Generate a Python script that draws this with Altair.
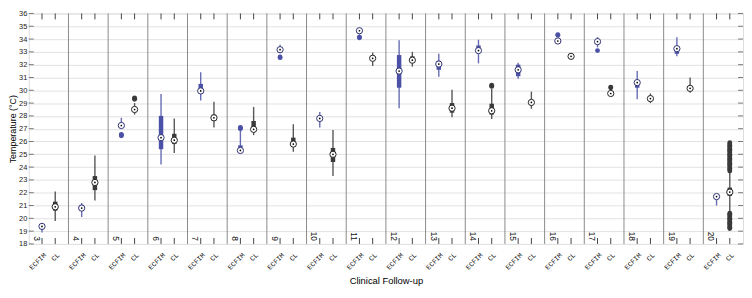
import altair as alt
import pandas as pd

# ---------------- data ----------------
groups = list(range(3, 21))
categories = ["ECFIM", "CL"]

# ECFIM summary (median, q1, q3, lower whisker, upper whisker)
ecfim_med = [19.37, 20.8, 27.25, 26.3, 29.95, 25.3, 33.17, 27.8, 34.65, 31.5, 32.05, 33.1, 31.6, 33.85, 33.8, 30.6, 33.25, 21.7]
ecfim_q1  = [19.3, 20.6, 27.2, 25.4, 29.9, 25.2, 33.1, 27.7, 34.6, 30.2, 31.6, 33.1, 31.1, 33.8, 33.7, 30.2, 32.85, 21.6]
ecfim_q3  = [19.45, 21.05, 27.3, 28.0, 30.5, 25.7, 33.25, 27.9, 34.7, 32.75, 32.3, 33.5, 32.0, 33.9, 33.9, 30.6, 33.25, 21.75]
ecfim_lo  = [18.9, 20.1, 27.0, 24.2, 29.2, 25.1, 32.9, 27.1, 34.35, 28.6, 31.05, 32.1, 30.9, 33.7, 33.35, 29.3, 32.65, 21.0]
ecfim_hi  = [19.5, 21.2, 27.85, 29.7, 31.4, 26.9, 33.55, 28.3, 34.9, 33.9, 32.85, 33.95, 32.15, 34.0, 34.15, 31.5, 34.15, 21.8]

# CL summary
cl_med = [20.9, 22.8, 28.5, 26.1, 27.85, 26.95, 25.8, 25.0, 32.5, 32.35, 28.6, 28.4, 29.05, 32.65, 29.75, 29.35, 30.15, 22.05]
cl_q1  = [20.6, 22.2, 28.4, 25.8, 27.6, 26.8, 25.6, 24.4, 32.35, 32.15, 28.25, 28.1, 28.9, 32.6, 29.7, 29.25, 30.05, 21.75]
cl_q3  = [21.3, 23.3, 28.6, 26.6, 28.1, 27.6, 26.3, 25.5, 32.65, 32.65, 29.0, 28.95, 29.2, 32.75, 29.85, 29.45, 30.25, 22.4]
cl_lo  = [19.8, 21.4, 28.1, 25.1, 27.1, 26.5, 25.2, 23.3, 31.9, 31.85, 27.9, 27.75, 28.55, 32.5, 29.6, 29.0, 29.8, 20.5]
cl_hi  = [22.1, 24.9, 29.0, 27.8, 29.1, 28.7, 27.35, 26.9, 32.95, 33.0, 30.05, 30.1, 29.9, 32.9, 30.1, 29.75, 31.0, 23.6]

# outliers per follow-up
ecfim_out = {
    5: [26.45, 26.5, 26.55],
    8: [27.0, 27.05, 27.1],
    9: [32.55, 32.6],
    11: [34.1, 34.15],
    16: [34.3, 34.35],
    17: [33.1],
}
cl_out = {
    5: [29.3, 29.35, 29.4],
    14: [30.3, 30.35, 30.4],
    17: [30.2, 30.25],
    20: [19.2, 19.3, 19.4, 19.5, 19.6, 19.7, 19.8, 19.9, 20.0, 20.1, 20.2, 20.3, 20.4,
         23.7, 23.8, 23.9, 24.0, 24.1, 24.2, 24.3, 24.4, 24.5, 24.6, 24.7, 24.8, 24.9,
         25.0, 25.1, 25.2, 25.3, 25.4, 25.5, 25.6, 25.7, 25.8, 25.9],
}

y_ticks = list(range(18, 37))

# ---------------- tables ----------------
rows = []
out_rows = []
for i, g in enumerate(groups):
    for c, (med, q1, q3, lo, hi, outs) in zip(
        categories,
        [(ecfim_med, ecfim_q1, ecfim_q3, ecfim_lo, ecfim_hi, ecfim_out),
         (cl_med, cl_q1, cl_q3, cl_lo, cl_hi, cl_out)],
    ):
        pos = 3 * i + (1 if c == "ECFIM" else 2)
        rows.append(dict(group=g, cat=c, pos=pos, med=med[i], q1=q1[i], q3=q3[i], lo=lo[i], hi=hi[i]))
        for v in outs.get(g, []):
            out_rows.append(dict(group=g, cat=c, pos=pos, val=v))

box_df = pd.DataFrame(rows)
out_df = pd.DataFrame(out_rows)
sep_df = pd.DataFrame({"pos": [3 * i for i in range(1, len(groups))]})
lab_df = pd.DataFrame({"pos": [3 * i for i in range(len(groups))], "label": [str(g) for g in groups], "y": [18] * len(groups)})
tick_df = pd.DataFrame({"pos": list(box_df["pos"])})
ytick_df = pd.DataFrame({"v": y_ticks})

W, H = 722, 233
FONT = "Liberation Sans"
BLUE = "#4b51a6"
DARK = "#3a3a3a"

xscale = alt.Scale(domain=[0, 3 * len(groups)], nice=False, zero=False)
yscale = alt.Scale(domain=[18, 36], nice=False, zero=False)
cscale = alt.Scale(domain=categories, range=[BLUE, DARK])

xaxis = alt.Axis(
    values=[int(p) for p in box_df["pos"]],
    labelExpr="datum.value % 3 == 1 ? 'ECFIM' : 'CL'",
    labelAngle=315,
    labelFont="Liberation Mono",
    labelFontSize=7,
    labelColor="#222",
    labelPadding=7,
    labelOverlap=False,
    labelFlush=False,
    ticks=False,
    grid=False,
    domain=False,
    title="Clinical Follow-up",
    titleFont=FONT,
    titleFontSize=9.5,
    titleFontWeight="normal",
    titleColor="#000000",
    titlePadding=5,
)
yaxis = alt.Axis(
    values=y_ticks,
    labelFont=FONT,
    labelFontSize=7.5,
    labelColor="#222",
    labelPadding=2,
    labelOverlap=False,
    labelFlush=False,
    ticks=False,
    domain=False,
    grid=True,
    gridColor="#e2e2e2",
    gridWidth=1,
    title="Temperature (°C)",
    titleFont=FONT,
    titleFontSize=9,
    titleFontWeight="normal",
    titleColor="#000000",
    titlePadding=1,
)


def X(field):
    return alt.X(field, type="quantitative", scale=xscale, axis=xaxis)


def Y(field):
    return alt.Y(field, type="quantitative", scale=yscale, axis=yaxis)


base_box = alt.Chart(box_df)

seps = alt.Chart(sep_df).mark_rule(color="#8a8a8a", strokeWidth=1).encode(
    x=X("pos"), y=alt.value(0), y2=alt.value(H)
)

ticks_bottom = alt.Chart(tick_df).mark_rule(color="#444", strokeWidth=1).encode(
    x=X("pos"), y=alt.value(H), y2=alt.value(H - 6)
)
ticks_top = alt.Chart(tick_df).mark_rule(color="#444", strokeWidth=1).encode(
    x=X("pos"), y=alt.value(0), y2=alt.value(6)
)
ticks_left = alt.Chart(ytick_df).mark_rule(color="#777", strokeWidth=1).encode(
    y=Y("v"), x=alt.value(0), x2=alt.value(5)
)
ticks_right = alt.Chart(ytick_df).mark_rule(color="#777", strokeWidth=1).encode(
    y=Y("v"), x=alt.value(W - 5), x2=alt.value(W)
)

whiskers = base_box.mark_rule(strokeWidth=1.4, opacity=0.85).encode(
    x=X("pos"),
    y=Y("lo"),
    y2="hi:Q",
    color=alt.Color("cat:N", scale=cscale, legend=None),
)
boxes = base_box.mark_rule(strokeWidth=4.5).encode(
    x=X("pos"),
    y=Y("q1"),
    y2="q3:Q",
    color=alt.Color("cat:N", scale=cscale, legend=None),
)
outliers = alt.Chart(out_df).mark_point(filled=True, size=24, opacity=1).encode(
    x=X("pos"),
    y=Y("val"),
    color=alt.Color("cat:N", scale=cscale, legend=None),
)
med_circle = base_box.mark_point(filled=True, size=40, fill="white", strokeWidth=1, opacity=1).encode(
    x=X("pos"),
    y=Y("med"),
    stroke=alt.Stroke("cat:N", scale=alt.Scale(domain=categories, range=["#2f3370", "#222222"]), legend=None),
)
med_dot = base_box.mark_point(filled=True, size=3, color="#000", opacity=1).encode(
    x=X("pos"),
    y=Y("med"),
)

group_labels = alt.Chart(lab_df).mark_text(
    angle=90, align="right", baseline="bottom", dx=-3, dy=-3,
    font=FONT, fontSize=8.5, color="#111",
).encode(
    x=X("pos"),
    y=Y("y"),
    text="label:N",
)

chart = alt.layer(
    seps, ticks_left, ticks_right, ticks_bottom, ticks_top,
    whiskers, boxes, outliers, med_circle, med_dot, group_labels,
).properties(
    width=W,
    height=H,
    padding={"left": 21, "top": 4, "right": 1, "bottom": 41},
    autosize=alt.AutoSizeParams(type="none"),
).configure_view(
    stroke="#666", strokeWidth=1
).configure(background="white")

chart.save("out.html", embed_options={"renderer": "svg", "actions": False})
